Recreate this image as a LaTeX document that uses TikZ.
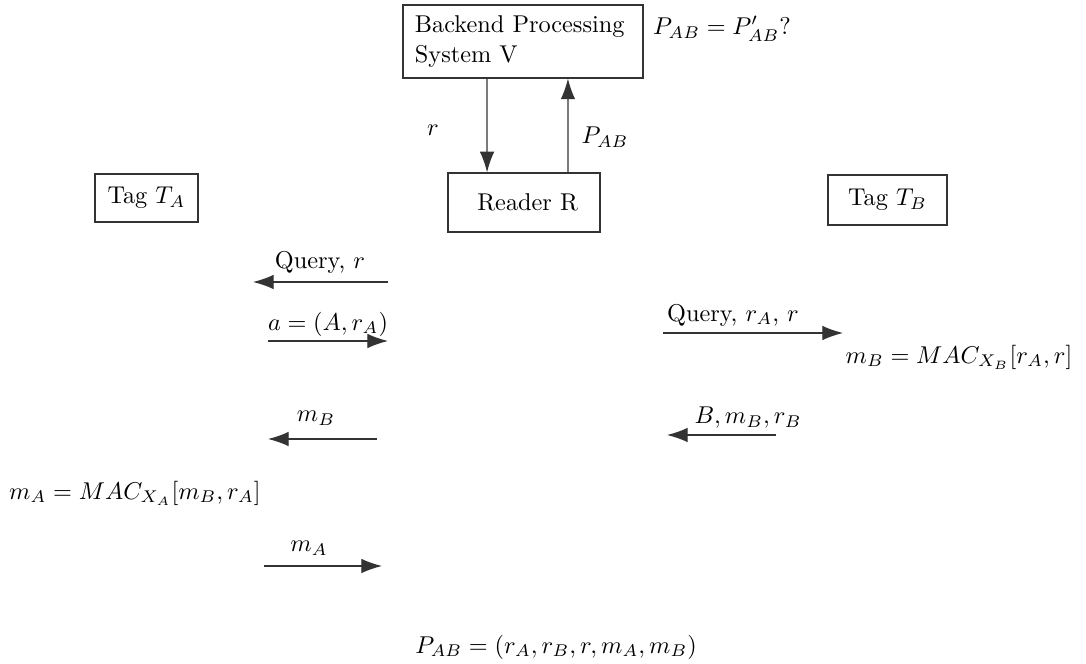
\documentclass[tikz,border=0pt]{standalone}
\usetikzlibrary{arrows.meta}
\begin{document}
\begin{tikzpicture}[x=0.4115pt,y=-0.4115pt,
  box/.style={draw=black!80,line width=0.5pt,inner sep=0pt},
  msg/.style={draw=black!80,line width=0.5pt,-{Latex[length=8.5pt,width=6pt]}},
  lbl/.style={inner sep=0pt}]
\useasboundingbox (0,0) rectangle (1086,664);
% boxes
\node[box,minimum width=98.8pt,minimum height=30pt,text width=88.9pt,align=left] (V) at (523,41.5) {Backend Processing\\System V};
\node[box,minimum width=62.5pt,minimum height=24.3pt] (R) at (524,202.5) {\hspace{3pt}Reader R};
\node[box,minimum width=42.4pt,minimum height=19.8pt] (TA) at (146.5,198) {Tag $T_A$};
\node[box,minimum width=49pt,minimum height=20.6pt] (TB) at (887.5,200) {Tag $T_B$};
% V <-> R
\draw[msg] ([xshift=-14.8pt]V.south) -- ([xshift=-15.2pt]R.north);
\draw[msg] ([xshift=18.1pt]R.north) -- ([xshift=18.5pt]V.south);
\node[lbl] (lr) at (433,130) {$r$};
\node[lbl] (lp) at (605,137) {$P_{AB}$};
\node[lbl] (cmp) at (722,29) {$P_{AB} = P'_{AB}?$};
% messages
\coordinate (q1s) at (388,282); \coordinate (q1e) at (253,282);
\draw[msg] (q1s) -- (q1e);
\node[lbl] (q1l) at (320,262) {Query, $r$};
\coordinate (a1s) at (268,341); \coordinate (a1e) at (388,341);
\draw[msg] (a1s) -- (a1e);
\node[lbl] (a1l) at (328,324) {$a=(A,r_A)$};
\coordinate (q2s) at (663,333); \coordinate (q2e) at (843,333);
\draw[msg] (q2s) -- (q2e);
\node[lbl] (q2l) at (733,315) {Query, $r_A$, $r$};
\node[lbl] (mbc) at (959,357) {$m_B = MAC_{X_B}[r_A,r]$};
\coordinate (b1s) at (776,435); \coordinate (b1e) at (667,435);
\draw[msg] (b1s) -- (b1e);
\node[lbl] (b1l) at (748,418) {$B,m_B,r_B$};
\coordinate (mbs) at (377,439); \coordinate (mbe) at (268,439);
\draw[msg] (mbs) -- (mbe);
\node[lbl] (mbl) at (316,418) {$m_B$};
\node[lbl] (mac) at (135,493) {$m_A = MAC_{X_A}[m_B,r_A]$};
\coordinate (mas) at (264,566); \coordinate (mae) at (382,566);
\draw[msg] (mas) -- (mae);
\node[lbl] (mal) at (309,548) {$m_A$};
\node[lbl] (pab) at (556,647) {$P_{AB} = (r_A,r_B,r,m_A,m_B)$};
\end{tikzpicture}
\end{document}
